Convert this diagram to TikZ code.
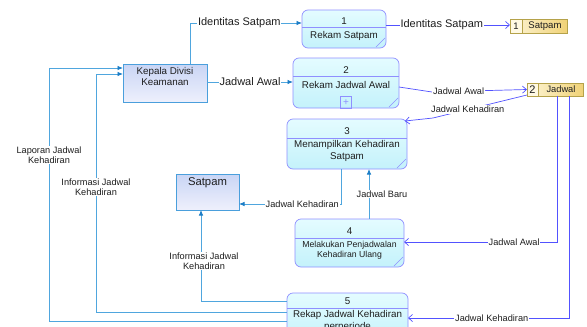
\documentclass[tikz,border=0pt]{standalone}
\usepackage{fontspec}
\setmainfont{Liberation Sans}
\usetikzlibrary{arrows.meta,calc}
\definecolor{entB}{HTML}{4A9FDC}
\definecolor{entT}{HTML}{C9D5F5}
\definecolor{entL}{HTML}{EEF0FC}
\definecolor{procB}{HTML}{8F8FFF}
\definecolor{procT}{HTML}{E4FCFF}
\definecolor{procL}{HTML}{C4F2FB}
\definecolor{dsB}{HTML}{B5A24A}
\definecolor{dsL}{HTML}{FDF5D6}
\definecolor{dsR}{HTML}{F0D277}
\definecolor{dsNum}{HTML}{FFF9E2}
\definecolor{blueL}{HTML}{4FA6DE}
\definecolor{blueA}{HTML}{1B7DC6}
\definecolor{violL}{HTML}{5252FF}
\definecolor{txt}{HTML}{1E1E1E}
\begin{document}
\begin{tikzpicture}[x=1pt,y=-1pt,
  entity/.style={draw=entB, line width=0.8pt, top color=entT, bottom color=entL, inner sep=0pt, outer sep=0pt},
  proc/.style={draw=procB, line width=0.7pt, rounded corners=6pt, top color=procT, bottom color=procL, inner sep=0pt, outer sep=0pt},
  procline/.style={draw=procB, line width=0.6pt},
  store/.style={draw=dsB, line width=0.8pt, left color=dsL, right color=dsR, inner sep=0pt, outer sep=0pt},
  bl/.style={draw=blueL, line width=0.8pt, -{Latex[length=5.5pt,width=4.5pt,color=blueA]}},
  vl/.style={draw=violL, line width=0.7pt, -{Straight Barb[length=4pt,width=7pt]}},
  lbl/.style={fill=white, inner sep=0.8pt, text=txt, align=center, font=\fontsize{9.2}{10.5}\selectfont},
  lblL/.style={fill=white, inner sep=0.8pt, text=txt, font=\fontsize{11}{12}\selectfont},
  ptxt/.style={text=txt, align=center, inner sep=0pt, font=\fontsize{9.8}{11.2}\selectfont}
]
\useasboundingbox (0,0) rectangle (587,327);
\clip (0,0) rectangle (587,327);

% external entities
\node[entity, minimum width=84, minimum height=38] (kep) at (165,83) {};
\node[ptxt] (kept) at (165,76.5) {Kepala Divisi\\Keamanan};
\node[entity, minimum width=63, minimum height=36] (sat) at (207.5,192) {};
\node[ptxt, font=\fontsize{11.3}{12}\selectfont] (satt) at (207.5,182.5) {Satpam};

% process 1
\node[proc, minimum width=84, minimum height=38] (p1) at (344,29) {};
\draw[procline] (p1.west |- 0,27) -- (p1.east |- 0,27);
\draw[procline] ([shift={(-10,-1)}]p1.south east) -- ([shift={(-1,-10)}]p1.south east);
\node[ptxt] (p1n) at (344,21) {1};
\node[ptxt] (p1t) at (344,35.5) {Rekam Satpam};

% process 2
\node[proc, minimum width=106, minimum height=50] (p2) at (346,83) {};
\draw[procline] (p2.west |- 0,76) -- (p2.east |- 0,76);
\draw[procline] ([shift={(-10,-1)}]p2.south east) -- ([shift={(-1,-10)}]p2.south east);
\node[ptxt] (p2n) at (346,70) {2};
\node[ptxt] (p2t) at (346,84.5) {Rekam Jadwal Awal};
\node[draw=procB, line width=0.6pt, minimum size=11.5, inner sep=0pt, text=procB, font=\fontsize{10}{10}\selectfont] (p2plus) at (346,102.5) {+};

% process 3
\node[proc, minimum width=120, minimum height=50] (p3) at (347,144) {};
\draw[procline] (p3.west |- 0,138) -- (p3.east |- 0,138);
\draw[procline] ([shift={(-10,-1)}]p3.south east) -- ([shift={(-1,-10)}]p3.south east);
\node[ptxt] (p3n) at (347,131.5) {3};
\node[ptxt] (p3t) at (347,151) {Menampilkan Kehadiran\\Satpam};

% process 4
\node[proc, minimum width=109, minimum height=48] (p4) at (349.5,243) {};
\draw[procline] (p4.west |- 0,238) -- (p4.east |- 0,238);
\draw[procline] ([shift={(-10,-1)}]p4.south east) -- ([shift={(-1,-10)}]p4.south east);
\node[ptxt] (p4n) at (349.5,230.7) {4};
\node[ptxt, font=\fontsize{8.7}{10}\selectfont] (p4t) at (349.5,250) {Melakukan Penjadwalan\\Kehadiran Ulang};

% process 5
\node[proc, minimum width=121, minimum height=50] (p5) at (347.5,318) {};
\draw[procline] (p5.west |- 0,308) -- (p5.east |- 0,308);
\node[ptxt] (p5n) at (347.5,300.7) {5};
\node[ptxt] (p5t) at (347.5,321) {Rekap Jadwal Kehadiran\\perperiode};

% data stores
\node[store, minimum width=57, minimum height=14] (ds1) at (538.5,26) {};
\filldraw[fill=dsNum, draw=dsB, line width=0.8pt] (ds1.north west) rectangle (ds1.south -| 522,0);
\node[ptxt, font=\fontsize{9.5}{10}\selectfont] (ds1n) at (516,26) {1};
\node[ptxt, font=\fontsize{9.6}{10}\selectfont] (ds1t) at (545,26) {Satpam};

\node[store, minimum width=56, minimum height=13] (ds2) at (555,89.5) {};
\filldraw[fill=dsNum, draw=dsB, line width=0.8pt] (ds2.north west) rectangle (ds2.south -| 538,0);
\node[ptxt, font=\fontsize{11}{11}\selectfont] (ds2n) at (532.5,89.5) {2};
\node[ptxt, font=\fontsize{9.3}{10}\selectfont] (ds2t) at (561,89.5) {Jadwal};

% connectors (blue)
\draw[bl] (kep.north -| 190,0) |- node[lblL, pos=0.72] {Identitas Satpam} (p1.west |- 0,23);
\draw[bl] (kep.east |- 0,82) -- node[lblL, pos=0.5] {Jadwal Awal} (p2.west |- 0,82);
\draw[bl] (p3.south -| 341,0) |- node[lbl, pos=0.69] {Jadwal Kehadiran} (sat.east |- 0,204);
\draw[bl] (p4.north -| 369,0) -- node[lbl, pos=0.5, xshift=13] {Jadwal Baru} (p3.south -| 369,0);
\draw[bl] (p5.west |- 0,301) -| node[lbl, pos=0.72, xshift=3] {Informasi Jadwal\\Kehadiran} (sat.south -| 201,0);
\draw[bl] (p5.west |- 0,312) -- (96,312) -- node[lbl, pos=0.525] {Informasi Jadwal\\Kehadiran} (96,74) -- (kep.west |- 0,74);
\draw[bl] (p5.west |- 0,321) -- (49,321) -- node[lbl, pos=0.656] {Laporan Jadwal\\Kehadiran} (49,68) -- (kep.west |- 0,68);

% connectors (violet)
\draw[vl] (p1.east |- 0,25) -- node[lblL, pos=0.45] {Identitas Satpam} (ds1.west |- 0,25);
\draw[vl] (p2.east |- 0,87) -- (432,92) -- node[lbl, pos=0.28] {Jadwal Awal} (ds2.west);
\draw[vl] ([shift={(0,-1)}]ds2.south west) -- node[lbl, pos=0.63] {Jadwal Kehadiran} (433,118) -- ([shift={(-2,2)}]p3.north east);
\draw[vl] (ds2.south -| 557,0) |- node[lbl, pos=0.64] {Jadwal Awal} (p4.east |- 0,242);
\draw[vl] (ds2.south -| 569,0) |- node[lbl, pos=0.74] {Jadwal Kehadiran} (p5.east |- 0,318);
\end{tikzpicture}
\end{document}
